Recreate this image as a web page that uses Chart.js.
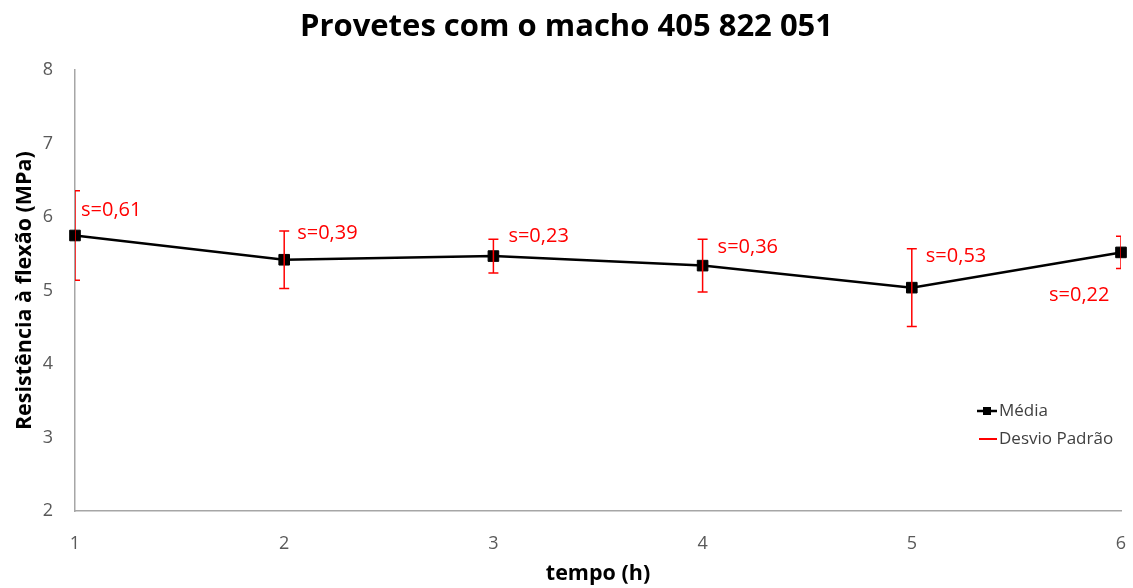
<!DOCTYPE html>
<html>
<head>
<meta charset="utf-8">
<script src="https://cdn.jsdelivr.net/npm/chart.js@4.4.1/dist/chart.umd.min.js"></script>
<style>
  html, body { margin: 0; padding: 0; background: #ffffff; }
  #wrap { width: 1133px; height: 588px; position: relative; }
</style>
</head>
<body>
<div id="wrap"><canvas id="c" width="1133" height="588"></canvas></div>
<script>
// ---- data ----
const tempos = [1, 2, 3, 4, 5, 6];
const media = [5.75, 5.42, 5.47, 5.34, 5.04, 5.52];
const desvio = [0.61, 0.39, 0.23, 0.36, 0.53, 0.22];
const sLabels = ['s=0,61', 's=0,39', 's=0,23', 's=0,36', 's=0,53', 's=0,22'];
const yMin = 2, yMax = 8, yStep = 1;
const xMin = 1, xMax = 6;
const titleText = 'Provetes com o macho 405 822 051';
const xTitle = 'tempo (h)';
const yTitle = 'Resistência à flexão (MPa)';
const legendLabels = ['Média', 'Desvio Padrão'];

// label offsets (style) relative to each point, in pixels
const labelOffsets = [[6, -25], [13, -26], [15, -20], [15, -18], [14, -31], [-72, 43]];

const FONT = "'Open Sans', 'Liberation Sans', sans-serif";

const errorBarPlugin = {
  id: 'errorBars',
  afterDatasetsDraw(chart) {
    const ctx = chart.ctx;
    const xs = chart.scales.x, ys = chart.scales.y;
    const a = chart.chartArea;
    ctx.save();
    ctx.beginPath();
    ctx.rect(a.left, a.top - 2, a.right - a.left, a.bottom - a.top + 4);
    ctx.clip();
    ctx.strokeStyle = '#ff0000';
    ctx.lineWidth = 1.5;
    tempos.forEach((t, i) => {
      const x = xs.getPixelForValue(t);
      const yt = ys.getPixelForValue(media[i] + desvio[i]);
      const yb = ys.getPixelForValue(media[i] - desvio[i]);
      ctx.beginPath();
      ctx.moveTo(x, yt); ctx.lineTo(x, yb);
      ctx.moveTo(x - 5, yt); ctx.lineTo(x + 5, yt);
      ctx.moveTo(x - 5, yb); ctx.lineTo(x + 5, yb);
      ctx.stroke();
    });
    ctx.restore();
  },
  afterDraw(chart) {
    const ctx = chart.ctx;
    const xs = chart.scales.x, ys = chart.scales.y;
    ctx.save();
    // s labels
    ctx.fillStyle = '#ff0000';
    ctx.font = "20px " + FONT;
    ctx.textAlign = 'left';
    ctx.textBaseline = 'middle';
    tempos.forEach((t, i) => {
      const x = xs.getPixelForValue(t) + labelOffsets[i][0];
      const y = ys.getPixelForValue(media[i]) + labelOffsets[i][1];
      ctx.fillText(sLabels[i], x, y);
    });
    // legend
    const lx = 977, ly1 = 411, ly2 = 439;
    ctx.strokeStyle = '#000000';
    ctx.lineWidth = 2.5;
    ctx.beginPath(); ctx.moveTo(lx, ly1); ctx.lineTo(lx + 20, ly1); ctx.stroke();
    ctx.fillStyle = '#000000';
    ctx.fillRect(lx + 6, ly1 - 4, 8, 8);
    ctx.strokeStyle = '#ff0000';
    ctx.lineWidth = 2;
    ctx.beginPath(); ctx.moveTo(lx + 2, ly2); ctx.lineTo(lx + 20, ly2); ctx.stroke();
    ctx.fillStyle = '#404040';
    ctx.font = "17px " + FONT;
    ctx.textBaseline = 'middle';
    ctx.fillText(legendLabels[0], lx + 22, ly1);
    ctx.fillText(legendLabels[1], lx + 22, ly2);
    ctx.restore();
  }
};

new Chart(document.getElementById('c'), {
  type: 'line',
  data: {
    datasets: [{
      label: legendLabels[0],
      data: tempos.map((t, i) => ({ x: t, y: media[i] })),
      borderColor: '#000000',
      backgroundColor: '#000000',
      borderWidth: 2.5,
      pointStyle: 'rect',
      pointRadius: 7.5,
      pointBorderWidth: 1,
      tension: 0,
      clip: false
    }]
  },
  options: {
    responsive: false,
    animation: false,
    layout: { padding: { left: 0, right: 0, top: 0, bottom: 0 } },
    plugins: {
      legend: { display: false },
      tooltip: { enabled: false },
      title: {
        display: true,
        text: titleText,
        color: '#000000',
        font: { family: FONT, size: 31, weight: 'bold', lineHeight: 1.2 },
        padding: { top: 9, bottom: 24 }
      }
    },
    scales: {
      x: {
        type: 'linear',
        min: xMin, max: xMax,
        afterFit(s) { s.height = 77; s.paddingRight = 12; s.paddingLeft = 0; },
        grid: { display: false },
        border: { display: true, color: '#a6a6a6', width: 1.5 },
        ticks: { stepSize: 1, color: '#595959', font: { family: FONT, size: 18 }, padding: 14 },
        title: { display: true, text: xTitle, color: '#000000', font: { family: FONT, size: 21.5, weight: 'bold', lineHeight: 1.2 }, padding: { top: 0, bottom: 1 } }
      },
      y: {
        min: yMin, max: yMax,
        afterFit(s) { s.width = 75; },
        grid: { display: false },
        border: { display: true, color: '#a6a6a6', width: 1.5 },
        ticks: { stepSize: yStep, color: '#595959', font: { family: FONT, size: 18 }, padding: 14 },
        title: { display: true, text: yTitle, color: '#000000', font: { family: FONT, size: 21.5, weight: 'bold', lineHeight: 1.2 }, padding: { top: 12, bottom: 0 } }
      }
    }
  },
  plugins: [errorBarPlugin]
});
</script>
</body>
</html>
